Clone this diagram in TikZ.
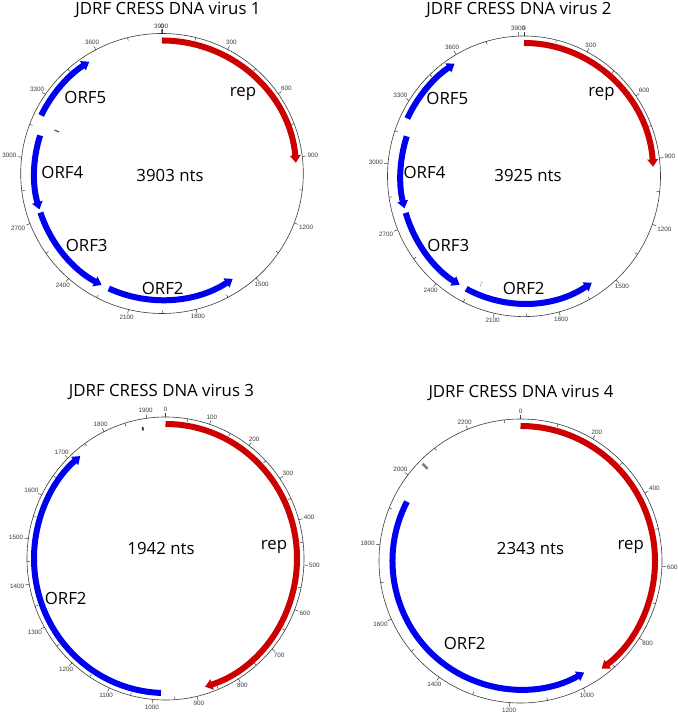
\documentclass[tikz,border=0pt]{standalone}
\usepackage{fontspec}
\setmainfont{Open Sans}
\newfontfamily\tickfont{Liberation Sans}
\usetikzlibrary{arrows.meta}
\definecolor{repred}{RGB}{204,0,0}
\definecolor{orfblue}{RGB}{0,0,240}
\definecolor{tickgray}{RGB}{60,60,60}
\tikzset{
  circ/.style={draw=tickgray, line width=0.6pt},
  tickline/.style={draw=tickgray, line width=0.5pt},
  ticklabel/.style={font=\tickfont\fontsize{6.3}{7}\selectfont, text=tickgray, inner sep=0.6pt},
  feat/.style={line width=6pt},
  tipped/.style={-{Triangle[width=10.5pt,length=7.5pt]}},
  titletext/.style={font=\fontsize{16.8}{20}\selectfont, inner sep=0, anchor=base},
  bigtext/.style={font=\fontsize{16.8}{20}\selectfont, inner sep=0, anchor=base},
  gmark/.style={line width=1pt, draw=gray},
}
% ticks: #1 cx, #2 cy, #3 rx, #4 ry, #5 length, #6 majors, #7 minors, #8 name prefix
\newcommand\mapticks[8]{%
  \draw[circ] (#1,#2) ellipse [x radius=#3, y radius=#4];
  \foreach \p in {#6}{%
    \pgfmathsetmacro\aa{90-\p/#5*360}%
    \pgfmathsetmacro\bb{\aa+180}%
    \draw[tickline] ({#1+#3*cos(\aa)},{#2+#4*sin(\aa)}) -- ({#1+(#3+4)*cos(\aa)},{#2+(#4+4)*sin(\aa)});
    \node[ticklabel, anchor=\bb] (#8\p) at ({#1+(#3+4.5)*cos(\aa)},{#2+(#4+4.5)*sin(\aa)}) {\p};
  }
  \foreach \p in {#7}{%
    \pgfmathsetmacro\aa{90-\p/#5*360}%
    \draw[tickline] ({#1+#3*cos(\aa)},{#2+#4*sin(\aa)}) -- ({#1+(#3-3)*cos(\aa)},{#2+(#4-3)*sin(\aa)});
  }
}
% arc: #1 style, #2 cx, #3 cy, #4 Rx, #5 Ry, #6 start, #7 end
\newcommand\featarc[7]{%
  \draw[feat,#1] ({#2+#4*cos(#6)},{#3+#5*sin(#6)}) arc[start angle=#6, end angle=#7, x radius=#4, y radius=#5];}
% radial mark: #1 style, #2 cx, #3 cy, #4 angle, #5 r1, #6 r2
\newcommand\radmark[6]{%
  \draw[#1] ({#2+#5*cos(#4)},{#3+#5*sin(#4)}) -- ({#2+#6*cos(#4)},{#3+#6*sin(#4)});}
\begin{document}
\begin{tikzpicture}[x=1pt,y=1pt]
\fill[white] (0,0) rectangle (677,714);
\useasboundingbox (0,0) rectangle (677,714);

% ---------- Map 1 ----------
\mapticks{162}{540.5}{141.3}{140}{3903}{0,300,...,3900}{150,450,...,3750}{ma}
\featarc{repred,tipped}{162}{540.5}{134.3}{133}{90}{4.6}
\featarc{orfblue,tipped}{162}{540.5}{134.3}{133}{154.1}{122.8}
\featarc{orfblue,tipped}{162}{540.5}{127.8}{126.5}{162.5}{196.5}
\featarc{orfblue,tipped}{162}{540.5}{127.8}{126.5}{198}{241.8}
\featarc{orfblue,tipped}{162}{540.5}{127.8}{126.5}{245.4}{303.6}
\radmark{gmark,draw=tickgray}{162}{540.5}{158}{111}{116}
\node[titletext] (t1) at (168,699) {JDRF CRESS DNA virus 1};
\node[bigtext] (n1) at (170,532.3) {3903 nts};
\node[bigtext] (rep1) at (243,617.5) {rep};
\node[bigtext] (o51) at (85.3,610.7) {ORF5};
\node[bigtext] (o41) at (62.3,535.7) {ORF4};
\node[bigtext] (o31) at (86.7,462.3) {ORF3};
\node[bigtext] (o21) at (162.7,419) {ORF2};

% ---------- Map 2 ----------
\mapticks{524}{537.7}{136.5}{140.3}{3925}{0,300,...,3900}{150,450,...,3750}{mb}
\featarc{repred,tipped}{524}{537.7}{129.5}{133.3}{90}{4.1}
\featarc{orfblue,tipped}{524}{537.7}{129.5}{133.3}{154.3}{122.4}
\featarc{orfblue,tipped}{524}{537.7}{123.5}{127.3}{161.7}{194.6}
\featarc{orfblue,tipped}{524}{537.7}{123.5}{127.3}{196.7}{238.6}
\featarc{orfblue,tipped}{524}{537.7}{123.5}{127.3}{242.1}{303.3}
\radmark{gmark,draw=gray!60,line width=0.7pt}{524}{537.7}{248.3}{113}{119}
\node[titletext] (t2) at (519,699) {JDRF CRESS DNA virus 2};
\node[bigtext] (n2) at (528,532.3) {3925 nts};
\node[bigtext] (rep2) at (601.5,617.3) {rep};
\node[bigtext] (o52) at (447.3,609) {ORF5};
\node[bigtext] (o42) at (424.5,535.7) {ORF4};
\node[bigtext] (o32) at (448.3,462.3) {ORF3};
\node[bigtext] (o22) at (523.7,419) {ORF2};

% ---------- Map 3 ----------
\mapticks{165.5}{155.5}{138.5}{141.5}{1942}{0,100,...,1900}{50,150,...,1850}{mc}
\featarc{repred,tipped}{165.5}{155.5}{131.5}{134.5}{90}{-72.5}
\featarc{orfblue,tipped}{165.5}{155.5}{131.5}{134.5}{268}{130.4}
\radmark{gmark,draw=tickgray,line width=1.8pt}{165.5}{155.5}{99.9}{130}{133.5}
\node[titletext] (t3) at (161.5,317) {JDRF CRESS DNA virus 3};
\node[bigtext] (n3) at (161,159) {1942 nts};
\node[bigtext] (rep3) at (274,164.7) {rep};
\node[bigtext] (o23) at (65.7,109) {ORF2};

% ---------- Map 4 ----------
\mapticks{520.5}{153}{141.5}{142}{2343}{0,200,...,2200}{100,300,...,2300}{md}
\featarc{repred,tipped}{520.5}{153}{134.5}{135}{90}{-52.9}
\featarc{orfblue,tipped}{520.5}{153}{128}{128.5}{152.5}{299.8}
\radmark{gmark,draw=gray,line width=2.6pt}{520.5}{153}{135.2}{131}{138}
\node[titletext] (t4) at (521,316) {JDRF CRESS DNA virus 4};
\node[bigtext] (n4) at (530.5,159) {2343 nts};
\node[bigtext] (rep4) at (630.7,164) {rep};
\node[bigtext] (o24) at (464.7,64) {ORF2};
\end{tikzpicture}
\end{document}
